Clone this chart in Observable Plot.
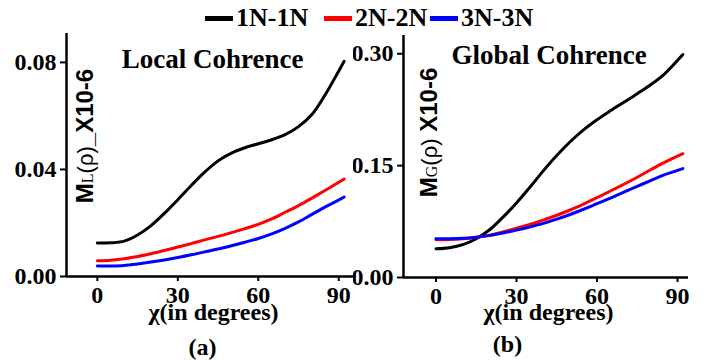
<!DOCTYPE html>
<html><head><meta charset="utf-8">
<script src="https://cdn.jsdelivr.net/npm/d3@7"></script>
<script src="https://cdn.jsdelivr.net/npm/@observablehq/plot@0.6"></script>
<style>
body{margin:0;background:#fff;}
#wrap{position:relative;width:707px;height:360px;overflow:hidden;background:#fff;}
#pa{position:absolute;left:0;top:0;z-index:2;}
#pb{position:absolute;left:340px;top:0;z-index:1;}
#legend{position:absolute;top:0;left:0;width:707px;height:32px;z-index:3;font-family:"Liberation Serif","Times New Roman",Tinos,"Nimbus Roman","DejaVu Serif",serif;font-weight:bold;font-size:26px;color:#000;}
.item{position:absolute;top:3px;display:flex;align-items:center;height:30px;white-space:nowrap;}
.sw{display:inline-block;width:28px;height:5px;margin-right:3px;}
</style></head><body>
<div id="wrap"><div id="pa"></div><div id="pb"></div><div id="legend"></div></div>
<script>
// ---------- data ----------
const seriesNames = ["1N-1N", "2N-2N", "3N-3N"];
const seriesColors = ["#000000", "#ff0000", "#0000ff"];
const xTicks = [0, 30, 60, 90];
const yTicksA = [0, 0.04, 0.08];
const yTicksB = [0, 0.15, 0.30];

// panel (a): Local coherence
const chiA = [0, 5, 10, 15, 20, 25, 30, 35, 40, 45, 50, 55, 60, 65, 70, 75, 80, 85, 90, 92];
const localN1 = [0.0125, 0.0126, 0.0132, 0.0155, 0.0190, 0.0236, 0.0287, 0.0340, 0.0390, 0.0432, 0.0461, 0.0481, 0.0496, 0.0511, 0.0530, 0.0560, 0.0605, 0.0680, 0.0768, 0.0804];
const localN2 = [0.0059, 0.0061, 0.0066, 0.0075, 0.0085, 0.0097, 0.0110, 0.0123, 0.0137, 0.0150, 0.0164, 0.0179, 0.0195, 0.0215, 0.0240, 0.0265, 0.0293, 0.0322, 0.0352, 0.0364];
const localN3 = [0.0039, 0.0039, 0.0041, 0.0047, 0.0054, 0.0062, 0.0071, 0.0081, 0.0092, 0.0103, 0.0115, 0.0128, 0.0142, 0.0159, 0.0180, 0.0204, 0.0232, 0.0260, 0.0286, 0.0297];

// panel (b): Global coherence
const chiB = [0, 5, 10, 15, 20, 25, 30, 35, 40, 45, 50, 55, 60, 65, 70, 75, 80, 85, 92];
const globalN1 = [0.0385, 0.0400, 0.0440, 0.0520, 0.0640, 0.0810, 0.1000, 0.1210, 0.1430, 0.1635, 0.1820, 0.1980, 0.2115, 0.2235, 0.2350, 0.2465, 0.2585, 0.2725, 0.2990];
const globalN2 = [0.0506, 0.0510, 0.0520, 0.0540, 0.0565, 0.0610, 0.0660, 0.0713, 0.0770, 0.0835, 0.0905, 0.0985, 0.1070, 0.1160, 0.1250, 0.1345, 0.1445, 0.1540, 0.1660];
const globalN3 = [0.0520, 0.0520, 0.0525, 0.0540, 0.0565, 0.0598, 0.0635, 0.0678, 0.0725, 0.0782, 0.0845, 0.0915, 0.0990, 0.1065, 0.1145, 0.1222, 0.1300, 0.1375, 0.1460];

function rows(chi, arrs) {
  const out = [];
  arrs.forEach((arr, s) => arr.forEach((v, i) => out.push({chi: chi[i], value: v, series: seriesNames[s]})));
  return out;
}
const dataA = rows(chiA, [localN1, localN2, localN3]);
const dataB = rows(chiB, [globalN1, globalN2, globalN3]);

const serif = "'Liberation Serif', 'Times New Roman', Tinos, 'Nimbus Roman', 'DejaVu Serif', serif";
const sans = "'Liberation Sans', Arial, sans-serif";

function panel({data, width, marginLeft, marginRight, marginTop, marginBottom, xDomain, yDomain, yTicks, title, tdx, tdy, xldx, xldy, tag, tagdx, tagdy}) {
  return Plot.plot({
    width, height: 360, marginLeft, marginRight, marginTop, marginBottom,
    style: {fontFamily: serif, fontSize: "24px", fontWeight: "bold", color: "#000", background: "white"},
    x: {domain: xDomain},
    y: {domain: yDomain},
    color: {domain: seriesNames, range: seriesColors},
    marks: [
      Plot.line(data, {x: "chi", y: "value", z: "series", stroke: "series", strokeWidth: 3, curve: "catmull-rom"}),
      Plot.ruleX([xDomain[0]], {stroke: "#000", strokeWidth: 2.5}),
      Plot.ruleY([0], {stroke: "#000", strokeWidth: 2.5}),
      Plot.axisY({ticks: yTicks, tickFormat: d3.format(".2f"), tickSize: 6, tickPadding: 4, strokeWidth: 2, label: null, fill: "#000", fontFamily: serif}),
      Plot.axisX({ticks: xTicks, tickFormat: d3.format("d"), tickSize: 5, tickPadding: 4, strokeWidth: 2, label: null, fill: "#000", fontFamily: serif}),
      Plot.text([title], {text: d => d, frameAnchor: "top", dx: tdx, dy: tdy, lineAnchor: "bottom", fontSize: 27, fontWeight: "bold", fontFamily: serif, fill: "#000"}),
      Plot.text(["\u03c7(in degrees)"], {text: d => d, frameAnchor: "bottom", dx: xldx, dy: xldy, lineAnchor: "bottom", fontSize: 24, fontWeight: "bold", fontFamily: serif, fill: "#000"}),
      Plot.text([tag], {text: d => d, frameAnchor: "bottom", dx: tagdx, dy: tagdy, lineAnchor: "bottom", fontSize: 24, fontWeight: "bold", fontFamily: serif, fill: "#000"})
    ]
  });
}

function yTitle(svg, cx, cy, sub, sep) {
  const t = d3.select(svg).append("text")
    .attr("transform", `translate(${cx},${cy}) rotate(-90)`)
    .attr("text-anchor", "middle")
    .attr("fill", "#000")
    .style("font-family", sans).style("font-size", "24px").style("font-weight", "bold");
  t.append("tspan").text("M");
  t.append("tspan").style("font-family", serif).style("font-weight", "normal").style("font-size", "16px").text(sub);
  t.append("tspan").style("font-weight", "normal").style("font-size", "22px").text("(\u03c1)");
  t.append("tspan").text(sep + "X10-6");
}

const svgA = panel({data: dataA, width: 353, marginLeft: 66, marginRight: 0, marginTop: 33, marginBottom: 84,
  xDomain: [-11.5, 95.5], yDomain: [0, 0.0908], yTicks: yTicksA, title: "Local Cohrence", tdx: 2.5, tdy: 34,
  xldx: 3.5, xldy: 43, tag: "(a)", tagdx: -7.5, tagdy: 78});
yTitle(svgA, 93, 136, "L", "_");
document.getElementById("pa").appendChild(svgA);

const svgB = panel({data: dataB, width: 367, marginLeft: 63, marginRight: 19, marginTop: 35, marginBottom: 83,
  xDomain: [-12.1, 94.1], yDomain: [0, 0.3245], yTicks: yTicksB, title: "Global Cohrence", tdx: 3, tdy: 28,
  xldx: 2.5, xldy: 42, tag: "(b)", tagdx: -38.5, tagdy: 74});
yTitle(svgB, 96.5, 132.5, "G", " ");
document.getElementById("pb").appendChild(svgB);

// legend
const legendLeft = [205, 324, 430];
const legend = document.getElementById("legend");
seriesNames.forEach((name, i) => {
  const it = document.createElement("div");
  it.className = "item";
  it.style.left = legendLeft[i] + "px";
  const sw = document.createElement("span");
  sw.className = "sw";
  sw.style.background = seriesColors[i];
  const lb = document.createElement("span");
  lb.textContent = name;
  it.appendChild(sw); it.appendChild(lb);
  legend.appendChild(it);
});
</script>
</body></html>
